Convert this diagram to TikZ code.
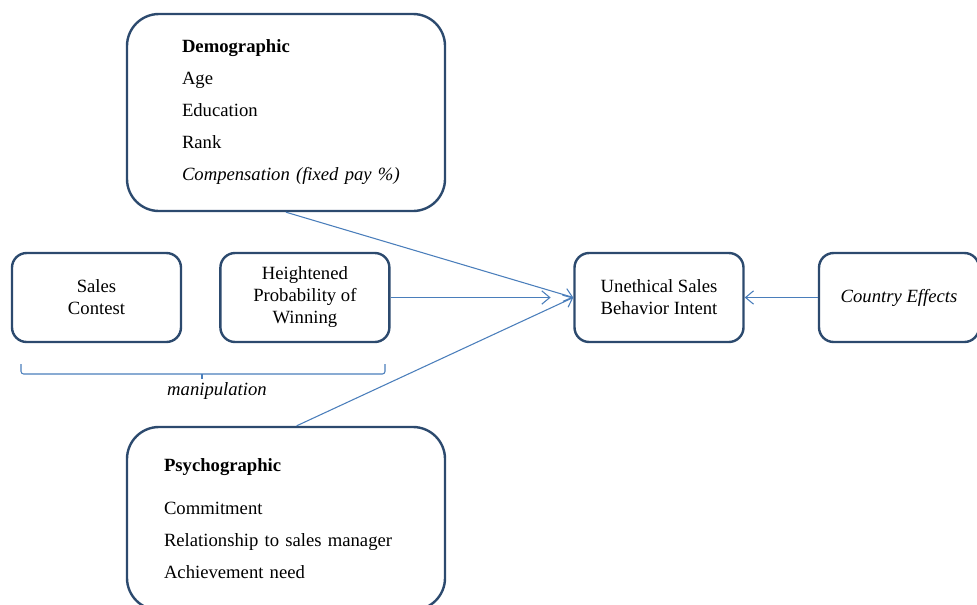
\documentclass[tikz,border=0pt]{standalone}
\usepackage{fontspec}
\setmainfont{Liberation Serif}
\usetikzlibrary{arrows.meta,positioning,calc}
\definecolor{boxline}{HTML}{2C4A6E}
\definecolor{arrowblue}{HTML}{4A7EBB}

\begin{document}
\begin{tikzpicture}[
    x=0.75pt, y=-0.75pt,
    node distance=27.75pt and 27.75pt,
    bigbox/.style={rectangle, draw=boxline, line width=1.8pt, minimum width=238.5pt, minimum height=147.75pt, rounded corners=24pt, align=left, inner sep=0pt, font=\fontsize{14}{24}\selectfont},
    smallbox/.style={rectangle, draw=boxline, line width=1.8pt, minimum width=126.75pt, minimum height=66.75pt, rounded corners=11pt, align=center, inner sep=0pt, font=\fontsize{14}{16.5}\selectfont},
    arr/.style={-{Straight Barb[length=6pt, width=10pt]}, draw=arrowblue, line width=0.8pt},
]
\useasboundingbox (0,0) rectangle (977,604);
% Demographic block
\node[bigbox, text width=156pt] (demo) at (286,112.5) {\textbf{Demographic}\\ Age\\ Education\\ Rank\\ \mbox{\textit{Compensation (fixed pay \%)}}};
% Manipulated factors
\node[smallbox] (contest) at (96.5,297.5) {Sales\\Contest};
\node[smallbox, right=of contest] (winprob) {Heightened\\Probability of\\Winning};
% Outcome
\node[smallbox] (intent) at (659,297.5) {Unethical Sales\\Behavior Intent};
% Country
\node[smallbox, minimum width=120pt, font=\fontsize{14}{16.5}\selectfont\itshape] (country) at (899,297.5) {Country Effects};
% Psychographic block
\node[bigbox, text width=183pt, minimum height=137.25pt] (psycho) at (286,518.5) {\textbf{Psychographic}\\[8pt] Commitment\\ Relationship to sales manager\\ Achievement need};

% Manipulation brace
\draw[arrowblue, line width=0.8pt, rounded corners=2pt] (21,364) -- (21,374) -- (385,374) -- (385,364);
\draw[arrowblue, line width=1.2pt] (202,374) -- (202,379);
\node[font=\fontsize{14}{16.5}\selectfont\itshape] (maniplabel) at (217,391) {manipulation};

% Arrows
\draw[arr] (demo.south) -- (intent.west);
\draw[arr, shorten >=17pt] (winprob.east) -- (intent.west);
\draw[arr] ([xshift=8pt]psycho.north) -- (intent.west);
\draw[arr] (country.west) -- (intent.east);
\end{tikzpicture}
\end{document}
